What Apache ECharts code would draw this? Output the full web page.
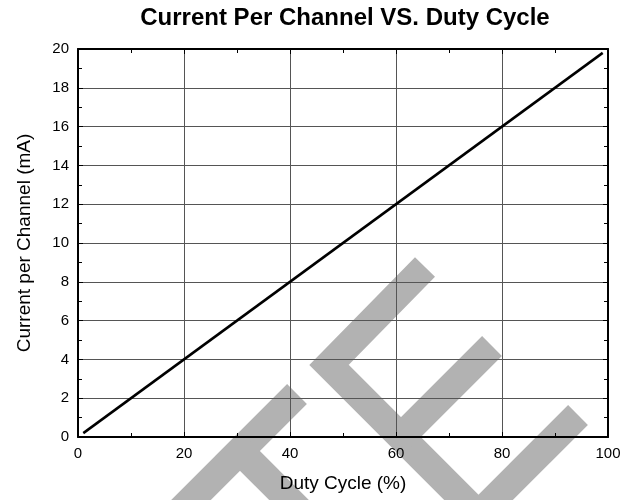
<!DOCTYPE html>
<html>
<head>
<meta charset="utf-8">
<script src="https://cdn.jsdelivr.net/npm/echarts@6/dist/echarts.min.js"></script>
<style>
html,body{margin:0;padding:0;background:#fff;}
#main{width:632px;height:500px;}
</style>
</head>
<body>
<div id="main"></div>
<script>
// data
var dutyCycle = [1, 99];
var currentMA = [0.2, 19.8];
var xTicks = [0, 20, 40, 60, 80, 100];
var yTicks = [0, 2, 4, 6, 8, 10, 12, 14, 16, 18, 20];

var FONT = '"Liberation Sans", Arial, sans-serif';
var wm = '#b2b2b2';

var chart = echarts.init(document.getElementById('main'));

function wmLine(pts) {
    return {
        type: 'polyline',
        z: -10,
        silent: true,
        shape: { points: pts },
        style: { stroke: wm, lineWidth: 28, lineCap: 'butt', lineJoin: 'miter', fill: null }
    };
}

var axisCommon = {
    type: 'value',
    axisLine: { show: true, onZero: false, lineStyle: { color: '#000', width: 2 } },
    axisTick: { show: true, inside: true, length: 5, lineStyle: { color: '#000', width: 1 } },
    minorTick: { show: true, splitNumber: 2, length: 4, lineStyle: { color: '#000', width: 1 } }
};

var option = {
    backgroundColor: '#fff',
    animation: false,
    title: {
        text: 'Current Per Channel VS. Duty Cycle',
        left: 340,
        textAlign: 'center',
        top: 1,
        textStyle: { fontFamily: FONT, fontSize: 24, fontWeight: 'bold', color: '#000' }
    },
    graphic: [
        wmLine([[297, 394], [170, 521]]),
        wmLine([[240, 451], [320, 531]]),
        wmLine([[425, 267], [329, 365], [480, 516]]),
        wmLine([[401, 437], [492, 346]]),
        wmLine([[578, 415], [470, 523]])
    ],
    grid: { left: 78, right: 24, top: 49, bottom: 63 },
    xAxis: [
        Object.assign({}, axisCommon, {
            position: 'bottom',
            min: xTicks[0], max: xTicks[xTicks.length - 1], interval: 20,
            name: 'Duty Cycle (%)',
            nameLocation: 'middle',
            nameGap: 37,
            nameTextStyle: { fontFamily: FONT, fontSize: 19, color: '#000' },
            axisLabel: { fontFamily: FONT, fontSize: 15, color: '#000', margin: 9 },
            splitLine: { show: true, lineStyle: { color: '#555', width: 1 } }
        }),
        Object.assign({}, axisCommon, {
            position: 'top',
            min: xTicks[0], max: xTicks[xTicks.length - 1], interval: 20,
            axisLabel: { show: false },
            splitLine: { show: false }
        })
    ],
    yAxis: [
        Object.assign({}, axisCommon, {
            position: 'left',
            min: yTicks[0], max: yTicks[yTicks.length - 1], interval: 2,
            name: 'Current per Channel (mA)',
            nameLocation: 'middle',
            nameGap: 44,
            nameTextStyle: { fontFamily: FONT, fontSize: 19, color: '#000' },
            axisLabel: { fontFamily: FONT, fontSize: 15, color: '#000', margin: 9 },
            splitLine: { show: true, lineStyle: { color: '#555', width: 1 } }
        }),
        Object.assign({}, axisCommon, {
            position: 'right',
            min: yTicks[0], max: yTicks[yTicks.length - 1], interval: 2,
            axisLabel: { show: false },
            splitLine: { show: false }
        })
    ],
    series: [
        {
            type: 'line',
            xAxisIndex: 0,
            yAxisIndex: 0,
            showSymbol: false,
            symbol: 'none',
            lineStyle: { color: '#000', width: 2.5 },
            data: dutyCycle.map(function (x, i) { return [x, currentMA[i]]; })
        }
    ]
};

chart.setOption(option);
</script>
</body>
</html>
